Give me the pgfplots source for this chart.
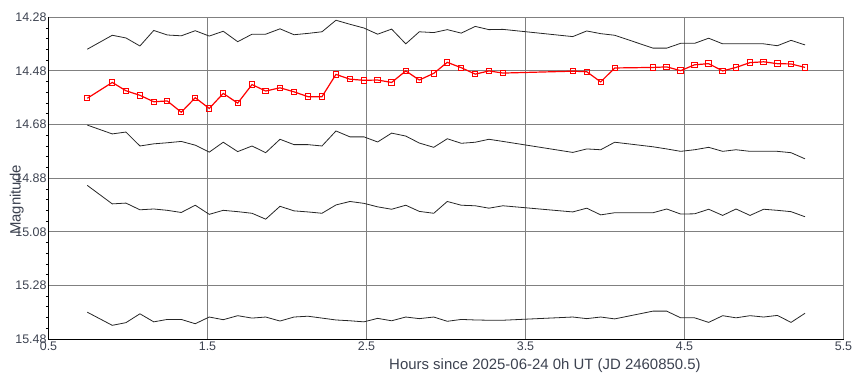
\documentclass[border=0pt]{standalone}
\usepackage{pgfplots}
\usepackage{pgfplotstable}
\pgfplotsset{compat=1.18}
\usepackage{fontspec}
\setmainfont{Liberation Sans}
\definecolor{txt}{RGB}{60,66,80}
\definecolor{gridc}{RGB}{128,128,128}
\pgfplotstableread{
x r c1 c2 c3 c4
0.744 14.582 14.399 14.682 14.907 15.380
0.901 14.523 14.347 14.715 14.976 15.429
0.987 14.554 14.357 14.708 14.973 15.419
1.075 14.571 14.387 14.760 14.998 15.386
1.162 14.595 14.329 14.752 14.995 15.416
1.247 14.592 14.346 14.748 15.000 15.407
1.335 14.634 14.349 14.743 15.008 15.407
1.423 14.580 14.330 14.757 14.981 15.423
1.511 14.620 14.350 14.783 15.015 15.398
1.599 14.564 14.332 14.746 15.000 15.408
1.690 14.600 14.371 14.781 15.005 15.393
1.780 14.531 14.343 14.760 15.011 15.402
1.866 14.555 14.343 14.785 15.033 15.398
1.956 14.543 14.323 14.735 14.985 15.413
2.044 14.558 14.345 14.755 15.002 15.398
2.132 14.576 14.340 14.755 15.006 15.395
2.220 14.576 14.334 14.760 15.011 15.402
2.308 14.493 14.291 14.704 14.980 15.409
2.396 14.511 14.306 14.726 14.967 15.412
2.484 14.515 14.320 14.726 14.974 15.416
2.570 14.514 14.343 14.745 14.987 15.403
2.658 14.523 14.324 14.712 14.996 15.412
2.747 14.480 14.379 14.723 14.981 15.398
2.832 14.514 14.334 14.749 15.004 15.404
2.923 14.489 14.337 14.765 15.011 15.398
3.008 14.448 14.326 14.733 14.967 15.414
3.096 14.468 14.339 14.750 14.981 15.407
3.184 14.492 14.314 14.746 14.983 15.409
3.270 14.480 14.326 14.735 14.992 15.410
3.358 14.488 14.325 14.743 14.983 15.410
3.797 14.481 14.352 14.784 15.006 15.398
3.885 14.483 14.331 14.771 14.992 15.404
3.973 14.521 14.341 14.774 15.017 15.398
4.061 14.469 14.347 14.746 15.009 15.405
4.302 14.467 14.395 14.763 15.009 15.376
4.388 14.465 14.395 14.771 14.995 15.376
4.476 14.479 14.377 14.780 15.014 15.401
4.564 14.457 14.377 14.774 15.013 15.401
4.652 14.453 14.358 14.765 14.996 15.418
4.740 14.480 14.379 14.780 15.019 15.393
4.824 14.467 14.379 14.774 14.995 15.401
4.912 14.449 14.379 14.780 15.019 15.393
4.998 14.446 14.379 14.780 14.996 15.398
5.084 14.453 14.386 14.780 15.000 15.392
5.170 14.454 14.366 14.785 15.005 15.418
5.258 14.467 14.383 14.808 15.024 15.384
}\datatable
\begin{document}
\begin{tikzpicture}
\path[use as bounding box] (-48.5bp,-53bp) rectangle (817.5bp,339bp);
\begin{axis}[
  at={(0,0)}, anchor=south west,
  scale only axis,
  width=795bp, height=321.7bp,
  xmin=0.5, xmax=5.5,
  ymin=14.28, ymax=15.48,
  y dir=reverse,
  xtick={0.5,1.5,2.5,3.5,4.5,5.5},
  ytick={14.28,14.48,14.68,14.88,15.08,15.28,15.48},
  minor ytick={14.32,14.36,14.40,14.44,14.52,14.56,14.60,14.64,14.72,14.76,14.80,14.84,14.92,14.96,15.00,15.04,15.12,15.16,15.20,15.24,15.32,15.36,15.40,15.44},
  xticklabels={0.5,1.5,2.5,3.5,4.5,5.5},
  yticklabels={14.28,14.48,14.68,14.88,15.08,15.28,15.48},
  grid=major,
  major grid style={draw=gridc, line width=0.9bp},
  minor grid style={draw=none},
  axis line style={draw=gridc, line width=0.9bp},
  tick align=outside,
  xtick pos=bottom, ytick pos=left,
  major tick length=0pt,
  minor tick length=2.5bp,
  minor tick style={black, line width=0.7bp},
  ticklabel style={font=\fontsize{12.5}{14}\selectfont, text=txt, inner sep=0pt},
  yticklabel style={anchor=east, xshift=-1.8bp},
  xticklabel style={anchor=north, yshift=-2.7bp},
  xlabel={Hours since 2025-06-24 0h UT (JD 2460850.5)},
  ylabel={Magnitude},
  label style={font=\fontsize{15}{17}\selectfont, text=txt},
  xlabel style={at={(rel axis cs:0.6245,-0.084)}, anchor=center},
  ylabel style={at={(rel axis cs:-0.040,0.432)}, anchor=center},
  clip=false,
]
\addplot[black!85, line width=0.8bp, mark=none] table[x=x, y=c1] {\datatable};
\addplot[black!85, line width=0.8bp, mark=none] table[x=x, y=c2] {\datatable};
\addplot[black!85, line width=0.8bp, mark=none] table[x=x, y=c3] {\datatable};
\addplot[black!85, line width=0.8bp, mark=none] table[x=x, y=c4] {\datatable};
\addplot[red, line width=1.2bp, mark=square, mark size=2.7bp, mark options={solid, line width=1bp, fill=white}] table[x=x, y=r] {\datatable};
\draw[black, line width=1bp] (rel axis cs:0,0) -- (rel axis cs:0,1);
\draw[black, line width=1bp] (rel axis cs:0,0) -- (rel axis cs:1,0);
\end{axis}
\end{tikzpicture}
\end{document}
